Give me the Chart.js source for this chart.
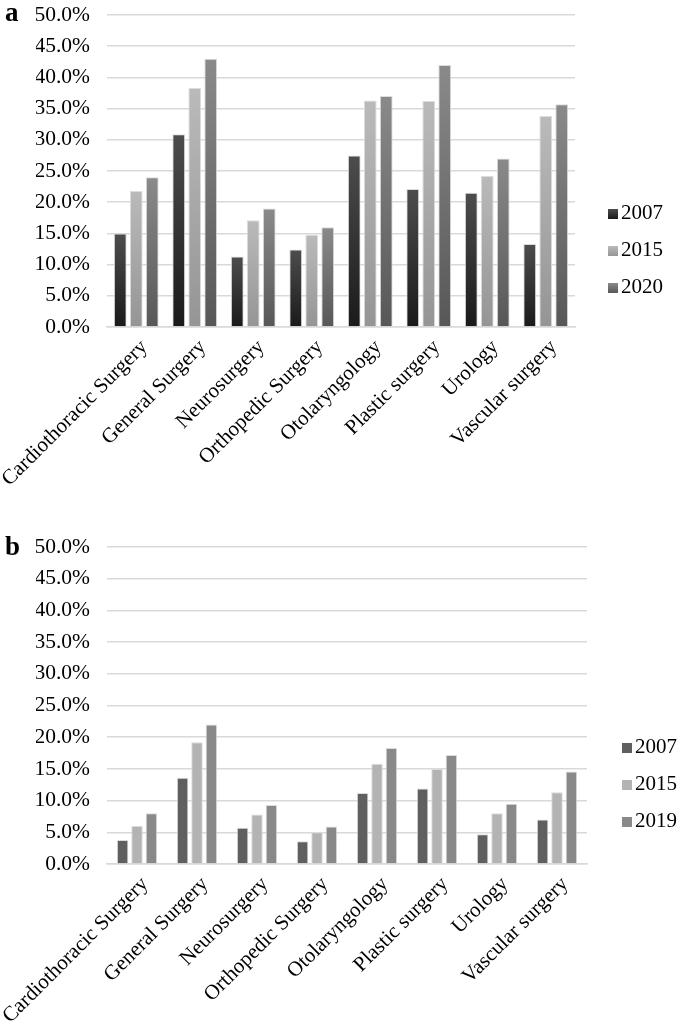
<!DOCTYPE html>
<html>
<head>
<meta charset="utf-8">
<script src="https://cdn.jsdelivr.net/npm/chart.js@4.4.1/dist/chart.umd.min.js"></script>
<style>
  body { margin: 0; background: #fff; font-family: 'Liberation Serif', 'Times New Roman', serif; }
  .panel { position: absolute; left: 0; width: 685px; }
  .tag { position: absolute; left: 5px; font-weight: bold; font-size: 27px; }
  .legend { position: absolute; font-size: 21px; color: #000; }
  .legend div { height: 37px; line-height: 37px; white-space: nowrap; }
  .legend span { display: inline-block; width: 10px; height: 10px; margin-right: 3px; vertical-align: 0px; }
</style>
</head>
<body>
<div class="panel" style="top:0;height:495px"><canvas id="chartA"></canvas></div>
<div class="tag" style="top:-3px">a</div>
<div class="legend" id="legendA" style="left:608px;top:194px"></div>

<div class="panel" style="top:520px;height:507px"><canvas id="chartB"></canvas></div>
<div class="tag" style="top:531px">b</div>
<div class="legend" id="legendB" style="left:622px;top:728px"></div>

<script>
// categories shared by both panels
const specialties = ['Cardiothoracic Surgery', 'General Surgery', 'Neurosurgery', 'Orthopedic Surgery',
    'Otolaryngology', 'Plastic surgery', 'Urology', 'Vascular surgery'];

// panel a (percent)
const yearsA = ['2007', '2015', '2020'];
const a2007 = [15.0, 30.9, 11.3, 12.4, 27.5, 22.1, 21.5, 13.3];
const a2015 = [21.8, 38.3, 17.1, 14.8, 36.3, 36.2, 24.2, 33.8];
const a2020 = [24.0, 43.0, 19.0, 16.0, 37.0, 42.0, 27.0, 35.7];

// panel b (percent)
const yearsB = ['2007', '2015', '2019'];
const b2007 = [3.8, 13.6, 5.7, 3.6, 11.2, 11.9, 4.7, 7.0];
const b2015 = [6.0, 19.2, 7.8, 5.0, 15.8, 15.0, 8.0, 11.3];
const b2019 = [8.0, 22.0, 9.3, 5.9, 18.3, 17.2, 9.5, 14.6];

const yTicks = [0, 5, 10, 15, 20, 25, 30, 35, 40, 45, 50];

// gradient stops for panel a (bottom, top)
const shadesA = [['#1a1a1a', '#4d4d4d'], ['#959595', '#bababa'], ['#575757', '#8a8a8a']];
const shadesB = ['#5f5f5f', '#b3b3b3', '#898989'];

const fontFam = "'Liberation Serif', 'Times New Roman', serif";

function barGradient(stops) {
    return function(ctx) {
        const chart = ctx.chart;
        if (!chart.chartArea || ctx.raw === undefined) return stops[0];
        const y = chart.scales.y;
        const g = chart.ctx.createLinearGradient(0, y.getPixelForValue(0), 0, y.getPixelForValue(ctx.raw));
        g.addColorStop(0, stops[0]);
        g.addColorStop(1, stops[1]);
        return g;
    };
}

// pad = chart area padding; axis sizes are pinned so the plot lands where the figure has it
function makeOptions(pad) {
    return {
        responsive: true,
        maintainAspectRatio: false,
        animation: false,
        layout: { padding: pad },
        plugins: { legend: { display: false }, tooltip: { enabled: false } },
        scales: {
            x: {
                grid: { display: false },
                border: { color: '#d9d9d9', width: 1.5 },
                afterFit: function(axis) {
                    axis.height = 160;
                    axis.paddingLeft = 0;
                    axis.paddingRight = 0;
                },
                ticks: {
                    color: '#000',
                    font: { family: fontFam, size: 21 },
                    minRotation: 45, maxRotation: 45,
                    autoSkip: false, padding: 0,
                    labelOffset: 8
                }
            },
            y: {
                min: 0, max: 50,
                afterBuildTicks: function(axis) {
                    axis.ticks = yTicks.map(v => ({ value: v }));
                },
                afterFit: function(axis) {
                    axis.width = 71;
                    axis.paddingTop = 0;
                    axis.paddingBottom = 0;
                },
                grid: { color: '#d9d9d9', lineWidth: 1.5, drawTicks: false },
                border: { display: false },
                ticks: {
                    color: '#000',
                    font: { family: fontFam, size: 21.5 },
                    padding: 17,
                    callback: v => v.toFixed(1) + '%'
                }
            }
        }
    };
}

function buildLegend(id, years, swatches) {
    const box = document.getElementById(id);
    years.forEach((yr, i) => {
        const row = document.createElement('div');
        const sw = document.createElement('span');
        sw.style.background = swatches[i];
        row.appendChild(sw);
        row.appendChild(document.createTextNode(yr));
        box.appendChild(row);
    });
}

// panel a
const seriesA = [a2007, a2015, a2020];
new Chart(document.getElementById('chartA'), {
    type: 'bar',
    data: {
        labels: specialties,
        datasets: seriesA.map((vals, i) => ({
            label: yearsA[i],
            data: vals,
            backgroundColor: barGradient(shadesA[i]),
            borderColor: '#dcdcdc',
            borderWidth: 1,
            categoryPercentage: 0.82,
            barPercentage: 0.8
        }))
    },
    options: makeOptions({ left: 36, right: 110, top: 15, bottom: 8 })
});
buildLegend('legendA', yearsA, shadesA.map(s => 'linear-gradient(to top,' + s[0] + ',' + s[1] + ')'));

// panel b
const seriesB = [b2007, b2015, b2019];
new Chart(document.getElementById('chartB'), {
    type: 'bar',
    data: {
        labels: specialties,
        datasets: seriesB.map((vals, i) => ({
            label: yearsB[i],
            data: vals,
            backgroundColor: shadesB[i],
            borderColor: '#dcdcdc',
            borderWidth: 1,
            categoryPercentage: 0.72,
            barPercentage: 0.8
        }))
    },
    options: makeOptions({ left: 36, right: 98, top: 27, bottom: 3 })
});
buildLegend('legendB', yearsB, shadesB);
</script>
</body>
</html>
